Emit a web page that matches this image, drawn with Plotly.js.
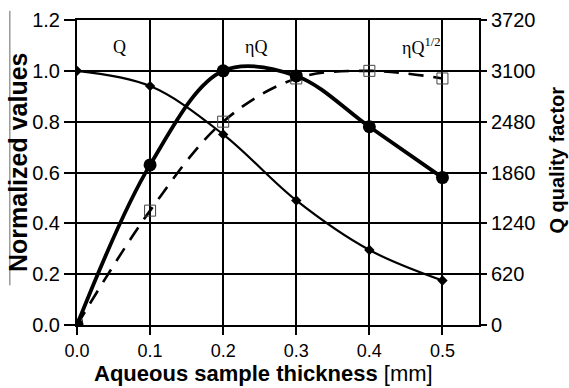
<!DOCTYPE html>
<html><head><meta charset="utf-8">
<script src="https://cdn.plot.ly/plotly-3.0.1.min.js"></script>
<style>body{margin:0;background:#fff}#c{width:569px;height:388px}</style>
</head><body><div id="c"></div>
<script>
const thickness = [0.0, 0.1, 0.2, 0.3, 0.4, 0.5];
const qNorm = [1.0, 0.94, 0.75, 0.49, 0.295, 0.175];
const etaQ = [0.0, 0.63, 1.0, 0.98, 0.78, 0.58];
const etaQhalf = [0.0, 0.45, 0.80, 0.97, 1.0, 0.97];
const qRef = 3100;
const leftTicks = [0, 0.2, 0.4, 0.6, 0.8, 1.0, 1.2];
const leftTickText = ['0.0','0.2','0.4','0.6','0.8','1.0','1.2'];
const rightTicks = [0, 620, 1240, 1860, 2480, 3100, 3720];
const xTicks = [0, 0.1, 0.2, 0.3, 0.4, 0.5];
const xTickText = ['0.0','0.1','0.2','0.3','0.4','0.5'];
const labels = [
  {x: 0.058, y: 1.095, text: 'Q'},
  {x: 0.245, y: 1.095, text: 'ηQ'},
  {x: 0.472, y: 1.095, text: 'ηQ<sup>1/2</sup>'}
];
const xTitle = '<b>Aqueous sample thickness</b> [mm]';
const yTitle = '<b>Normalized values</b>';
const y2Title = '<b>Q quality factor</b>';

const traces = [
  {x: thickness, y: qNorm, mode: 'lines+markers', line: {color: '#000', width: 2.2, shape: 'spline'},
   marker: {symbol: 'diamond', size: 8, color: '#000'}, yaxis: 'y'},
  {x: thickness, y: etaQhalf, mode: 'lines+markers', line: {color: '#000', width: 2.6, dash: '15px,10px', shape: 'spline'},
   marker: {symbol: 'square-open', size: 11, color: '#444', line: {width: 1}}, yaxis: 'y'},
  {x: thickness, y: etaQ, mode: 'lines+markers', line: {color: '#000', width: 3.8, shape: 'spline'},
   marker: {symbol: 'circle', size: 13, color: '#000'}, yaxis: 'y'},
  {x: thickness, y: qNorm.map(v => v * qRef), mode: 'lines', line: {width: 0}, opacity: 0, yaxis: 'y2', hoverinfo: 'skip'}
];

const titleFont = {family: 'Liberation Sans, Arial, sans-serif', color: '#000'};
const layout = {
  width: 569, height: 388,
  margin: {l: 77, r: 90, t: 20, b: 63},
  showlegend: false,
  paper_bgcolor: '#fff', plot_bgcolor: '#fff',
  font: {family: 'Liberation Sans, Arial, sans-serif', color: '#000', size: 20},
  xaxis: {
    range: [0, 0.55], tickvals: xTicks, ticktext: xTickText,
    showgrid: true, gridcolor: '#000', gridwidth: 2,
    showline: true, linecolor: '#000', linewidth: 2, mirror: true,
    ticks: 'outside', ticklen: 8, tickwidth: 2, tickcolor: '#000',
    zeroline: false, tickfont: {size: 18}
  },
  yaxis: {
    range: [0, 1.2], tickvals: leftTicks, ticktext: leftTickText,
    showgrid: true, gridcolor: '#000', gridwidth: 2,
    showline: true, linecolor: '#000', linewidth: 2,
    ticks: 'outside', ticklen: 11, tickwidth: 2, tickcolor: '#000',
    zeroline: false, tickfont: {size: 20}
  },
  yaxis2: {
    overlaying: 'y', side: 'right', range: [0, 3720], tickvals: rightTicks,
    showgrid: false, showline: true, linecolor: '#000', linewidth: 2,
    ticks: 'outside', ticklen: 6, tickwidth: 2, tickcolor: '#000',
    zeroline: false, tickfont: {size: 20}
  },
  annotations: labels.map(a => ({x: a.x, y: a.y, xref: 'x', yref: 'y', text: a.text, showarrow: false,
    font: {family: 'Liberation Serif, Times New Roman, serif', size: 18, color: '#000'}})).concat([
    {xref: 'paper', yref: 'paper', x: 0.465, y: -0.16, text: xTitle, showarrow: false,
     xanchor: 'center', yanchor: 'middle', font: Object.assign({size: 22}, titleFont)},
    {xref: 'paper', yref: 'paper', x: -0.147, y: 0.534, text: yTitle, showarrow: false, textangle: -90,
     xanchor: 'center', yanchor: 'middle', font: Object.assign({size: 25}, titleFont)},
    {xref: 'paper', yref: 'paper', x: 1.193, y: 0.541, text: y2Title, showarrow: false, textangle: -90,
     xanchor: 'center', yanchor: 'middle', font: Object.assign({size: 20}, titleFont)}
  ]),
  shapes: [
    {type: 'line', xref: 'paper', yref: 'paper', x0: -0.167, x1: -0.167, y0: 0.13, y1: 1.03,
     line: {color: '#666', width: 1}}
  ]
};
Plotly.newPlot('c', traces, layout, {staticPlot: true, displayModeBar: false});
</script></body></html>
